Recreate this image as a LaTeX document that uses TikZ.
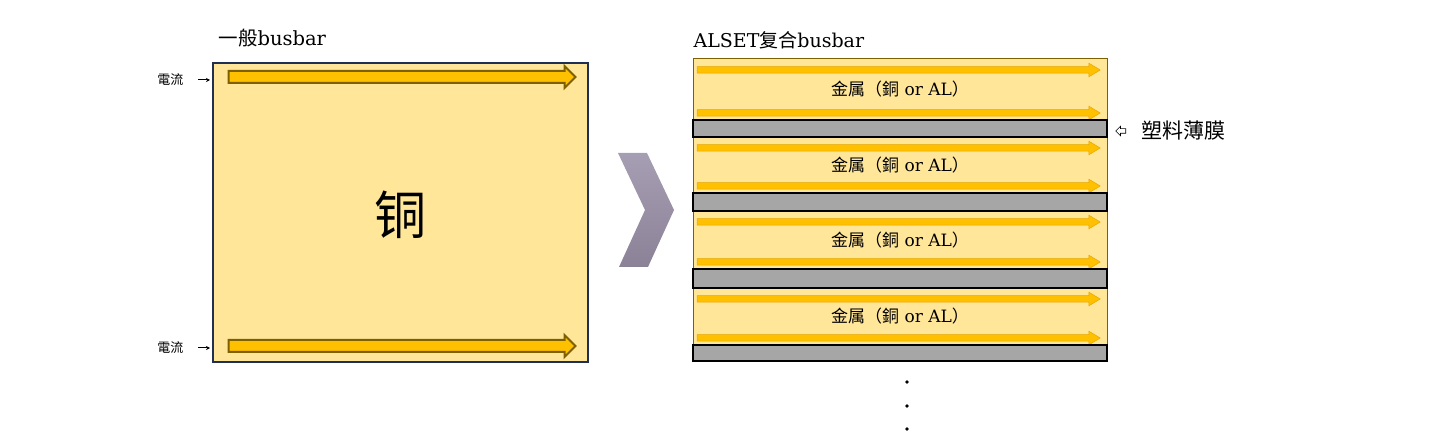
\documentclass[tikz,border=0pt]{standalone}
\usepackage{fontspec}
\setmainfont{DejaVu Serif}
\newfontfamily\cjk{Noto Sans CJK SC}
\usetikzlibrary{arrows.meta,positioning,shapes.arrows}
\definecolor{metalfill}{RGB}{255,230,153}
\definecolor{metaledge}{RGB}{127,96,0}
\definecolor{flowfill}{RGB}{255,192,0}
\definecolor{flowedge}{RGB}{230,168,0}
\definecolor{filmgray}{RGB}{166,166,166}
\definecolor{boxnavy}{RGB}{32,48,84}
\definecolor{chevtop}{RGB}{166,158,178}
\definecolor{chevbot}{RGB}{140,130,152}

\begin{document}
\begin{tikzpicture}[x=1pt,y=-1pt,>=Stealth,
  metal/.style={draw=metaledge,line width=1pt,fill=metalfill,minimum width=414,inner sep=0pt,font=\fontsize{17}{17}\selectfont},
  film/.style={draw=black,line width=1.6pt,fill=filmgray,minimum width=414,inner sep=0pt},
  flowbig/.style={single arrow,draw=metaledge,line width=2pt,fill=flowfill,inner xsep=0pt,inner ysep=5pt,single arrow head extend=5pt,single arrow tip angle=90,minimum height=347},
  flowthin/.style={single arrow,draw=flowedge,line width=0.5pt,fill=flowfill,inner xsep=0pt,inner ysep=3pt,single arrow head extend=3.5pt,single arrow tip angle=62,minimum height=403},
  cur/.style={font=\cjk\fontsize{13}{13}\selectfont,anchor=east}]
  \useasboundingbox (0,0) rectangle (1454,443);

  % left: plain busbar
  \node[anchor=west,font=\fontsize{19.5}{19.5}\selectfont] (ttlplain) at (215,38) {{\cjk 一般}busbar};
  \node[draw=boxnavy,line width=2pt,fill=metalfill,minimum width=375,minimum height=299,inner sep=0pt] (busbox) at (400.5,212.5) {};
  \node[font=\cjk\fontsize{52}{52}\selectfont] (cu) at (400,215) {铜};
  \node[flowbig] (flowtop) at (399,77) {};
  \node[flowbig] (flowbot) at (399,346) {};
  \node[cur] (cur1) at (187,80) {電流};
  \node[cur] (cur2) at (187,348) {電流};
  \draw[-{Stealth[length=4pt,width=4pt]},line width=1pt] ([xshift=11pt]cur1.east) -- ([xshift=-2pt]busbox.west |- cur1.east);
  \draw[-{Stealth[length=4pt,width=4pt]},line width=1pt] ([xshift=11pt]cur2.east) -- ([xshift=-2pt]busbox.west |- cur2.east);

  % chevron
  \shade[top color=chevtop,bottom color=chevbot] (618,153) -- (647,153) -- (674,210) -- (648,267) -- (619,267) -- (645,210) -- cycle;

  % right: layered busbar
  \node[anchor=west,font=\fontsize{19}{19}\selectfont] (ttllayer) at (690,40) {ALSET{\cjk 复合}busbar};
  \foreach \i/\t/\b in {1/59/120,2/137/193,3/211/269,4/288/345} {
    \node[metal,minimum height=\b-\t] (m\i) at (900,{(\t+\b)/2}) {{\cjk 金属（銅} or AL{\cjk ）}};
    \node[flowthin] (fa\i) at (896,{\t+11}) {};
    \node[flowthin] (fb\i) at (896,{\b-7}) {};
  }
  \foreach \i/\t/\b in {1/120/137,2/193/211,3/269/288,4/345/361}
    \node[film,minimum height=\b-\t] (f\i) at (900,{(\t+\b)/2}) {};

  \node[anchor=west,font=\cjk\fontsize{21}{21}\selectfont] (filmlbl) at (1138,131) {塑料薄膜};
  \node[single arrow,draw,line width=0.6pt,fill=white,shape border rotate=180,inner xsep=0pt,inner ysep=2pt,single arrow head extend=2.5pt,minimum height=10,left=12pt of filmlbl] (ptr) {};

  \foreach \y in {382,406,429}
    \fill (907,\y) circle (1.8);
\end{tikzpicture}
\end{document}
